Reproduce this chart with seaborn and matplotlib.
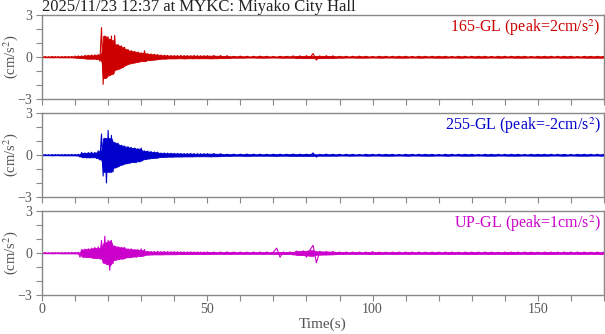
import numpy as np
import pandas as pd
import matplotlib
matplotlib.use("Agg")
import matplotlib.pyplot as plt
import seaborn as sns
from matplotlib.ticker import MultipleLocator

# ---------------- data ----------------
title = "2025/11/23 12:37 at MYKC: Miyako City Hall"
channels = ["165-GL", "255-GL", "UP-GL"]
peaks = ["2", "-2", "1"]
colors = ["#cc0000", "#0000cc", "#cc00cc"]

# alternating extremes every 0.5 s, t = 0 ... 50 s
red_early = [
    0.03, -0.02, 0.03, -0.03, 0.02, -0.03, 0.04, -0.03, 0.03, -0.02,
    0.03, -0.04, 0.03, -0.03, 0.04, -0.03, 0.03, -0.03, 0.04, -0.04,
    0.07, -0.06, 0.08, -0.07, 0.09,
    -0.10, 0.12, -0.13, 0.12, -0.14, 0.15, -0.12, 0.16, -0.15, 0.18,
    -0.30, 2.10, -1.95, 1.50, -1.50, 1.45, -1.30, 1.50, -1.20, 1.55,
    -0.90, 0.90, -0.85, 0.80, -0.75, 0.70, -0.60, 0.55, -0.50, 0.45,
    -0.45, 0.40, -0.40, 0.35, -0.35, 0.30, -0.30, 0.45, -0.30, 0.25,
    -0.22, 0.22, -0.20, 0.20, -0.18, 0.18, -0.15, 0.15, -0.12, 0.13,
    -0.12, 0.12, -0.10, 0.11, -0.10, 0.10, -0.11, 0.10, -0.09, 0.12,
    -0.10, 0.10, -0.12, 0.10, -0.09, 0.10, -0.10, 0.11, -0.09, 0.10,
    -0.10, 0.09, -0.10, 0.10, -0.09, 0.10,
]
blue_early = [
    0.03, -0.02, 0.03, -0.03, 0.02, -0.03, 0.03, -0.03, 0.03, -0.02,
    0.03, -0.03, 0.03, -0.03, 0.04, -0.03, 0.03, -0.03, 0.04, -0.03,
    0.04, -0.04, 0.05,
    -0.15, 0.18, -0.20, 0.15, -0.22, 0.17, -0.18, 0.20, -0.16, 0.19,
    -0.25, 0.30, -0.35,
    1.50, -1.50, 1.20, -2.00, 1.76, -1.20, 1.40, -1.20, 0.90, -0.90,
    0.85, -0.80, 0.70, -0.70, 0.65, -0.60, 0.60, -0.55, 0.55, -0.50,
    0.50, -0.55, 0.45, -0.45, 0.50, -0.40, 0.30, -0.30, 0.28, -0.25,
    0.25, -0.22, 0.22, -0.20, 0.20, -0.18,
    0.15, -0.14, 0.15, -0.13, 0.14, -0.12, 0.13, -0.12, 0.12, -0.11,
    0.12, -0.11, 0.11, -0.12, 0.10, -0.11, 0.10, -0.10, 0.11, -0.10,
    0.10, -0.09, 0.10, -0.10, 0.09, -0.10, 0.10, -0.09, 0.10,
]
mag_early = [
    0.03, -0.02, 0.03, -0.03, 0.02, -0.03, 0.03, -0.03, 0.03, -0.02,
    0.03, -0.03, 0.03, -0.03, 0.04, -0.03, 0.03, -0.03, 0.04, -0.03,
    0.04, -0.04, 0.05,
    -0.30, 0.25, -0.33, 0.28, -0.30, 0.30, -0.32,
    0.35, -0.38, 0.40, -0.35, 0.45, -0.40,
    0.90, -0.70, 1.20, -0.80, 0.90, -1.24, 0.90, -0.75, 0.50, -0.50,
    0.45, -0.45, 0.40, -0.40, 0.40, -0.35, 0.30, -0.30, 0.30, -0.28,
    0.25, -0.30, 0.25, -0.22, 0.30, -0.20, 0.25, -0.15, 0.12, -0.12,
    0.11, -0.12, 0.10, -0.11, 0.12, -0.10, 0.10, -0.11, 0.10, -0.09,
    0.10, -0.10, 0.09, -0.10, 0.10, -0.09, 0.10, -0.08, 0.09, -0.08,
    0.08, -0.09, 0.08, -0.08, 0.09, -0.08, 0.08, -0.07, 0.08, -0.08,
    0.07, -0.08, 0.07, -0.07, 0.08,
]

# alternating extremes every 1 s, t = 51 ... 170 s
red_late = [
    -0.10, 0.10, -0.09, 0.10, -0.08, 0.09, -0.08,
    0.05, -0.05, 0.06, -0.05, 0.05, -0.04, 0.05, -0.05, 0.06, -0.05,
    0.05, -0.05, 0.04, -0.05, 0.05, -0.06, 0.05, -0.05,
    0.08, -0.07, 0.08, -0.08, 0.09, -0.08,
    0.25, -0.22,
    0.08, -0.08, 0.09, -0.07, 0.08, -0.07,
    0.05, -0.05, 0.05, -0.04, 0.05, -0.05, 0.06, -0.05, 0.05, -0.05,
    0.04, -0.05, 0.05, -0.05, 0.05, -0.04, 0.05, -0.05, 0.05, -0.05,
    0.05, -0.05, 0.04, -0.05, 0.05, -0.05, 0.05, -0.04, 0.05, -0.05,
    0.05, -0.05, 0.05, -0.05, 0.04, -0.05, 0.05, -0.05, 0.05, -0.04,
    0.05, -0.05, 0.05, -0.05, 0.05, -0.05, 0.04, -0.05, 0.05, -0.05,
    0.05, -0.04, 0.05, -0.05, 0.05, -0.05, 0.05, -0.05, 0.04, -0.05,
    0.05, -0.05, 0.05, -0.05, 0.05, -0.04, 0.05, -0.05, 0.05, -0.05,
    0.05, -0.05, 0.04, -0.05, 0.05, -0.05, 0.05, -0.05, 0.05, -0.05,
    0.05,
]
blue_late = [
    -0.10, 0.10, -0.09, 0.09, -0.08,
    0.06, -0.06, 0.06, -0.05, 0.06, -0.06, 0.07, -0.06, 0.06, -0.05,
    0.06, -0.06, 0.05, -0.06, 0.06, -0.06, 0.06, -0.05, 0.06, -0.06,
    0.07, -0.06, 0.06, -0.06, 0.06, -0.06,
    0.15, -0.15,
    0.05, -0.05, 0.06, -0.05, 0.05, -0.05, 0.05, -0.04, 0.05, -0.05,
    0.05, -0.05, 0.04, -0.05, 0.05, -0.05, 0.05, -0.04, 0.05, -0.05,
    0.05, -0.05, 0.05, -0.05, 0.04, -0.05, 0.05, -0.05, 0.05, -0.04,
    0.05, -0.05, 0.05, -0.05, 0.05, -0.05, 0.04, -0.05, 0.05, -0.05,
    0.05, -0.04, 0.05, -0.05, 0.05, -0.05, 0.05, -0.05, 0.04, -0.05,
    0.05, -0.05, 0.05, -0.05, 0.05, -0.04, 0.05, -0.05, 0.05, -0.05,
    0.05, -0.05, 0.04, -0.05, 0.05, -0.05, 0.05, -0.05, 0.05, -0.05,
    0.05, -0.04, 0.05, -0.05, 0.05, -0.05, 0.04, -0.05, 0.05, -0.05,
    0.05, -0.05, 0.05, -0.04, 0.05, -0.05, 0.05,
]
mag_late = [
    -0.07, 0.07, -0.06, 0.07, -0.07, 0.08, -0.07, 0.07, -0.06, 0.07,
    -0.07, 0.06, -0.07, 0.07, -0.06, 0.07, -0.07, 0.07, -0.06, 0.07,
    0.35, -0.30,
    0.07, -0.07, 0.08,
    -0.15, 0.14, -0.15, 0.16,
    -0.30, 0.20,
    0.55, -0.70,
    0.12, -0.12, 0.11, -0.12, 0.10, -0.10,
    0.07, -0.07, 0.07, -0.06, 0.07, -0.07, 0.07, -0.06, 0.07, -0.07,
    0.10, -0.10, 0.07, -0.07, 0.06, -0.07, 0.07, -0.07, 0.07, -0.06,
    0.07, -0.07, 0.07, -0.06, 0.07, -0.07, 0.06, -0.07, 0.07, -0.07,
    0.07, -0.06, 0.07, -0.07, 0.07, -0.07, 0.06, -0.07, 0.07, -0.07,
    0.07, -0.07, 0.07, -0.06, 0.07, -0.07, 0.07, -0.07, 0.06, -0.07,
    0.07, -0.07, 0.07, -0.07, 0.07, -0.06, 0.07, -0.07, 0.07, -0.07,
    0.06, -0.07, 0.07, -0.07, 0.07, -0.07, 0.07, -0.06, 0.07, -0.07,
    0.07, -0.06, 0.07, -0.07, 0.07, -0.07, 0.06, -0.07, 0.07, -0.07,
    0.07,
]

early_t = np.arange(0, 50.01, 0.5)
late_t = np.arange(51, 170.01, 1.0)

series = [(red_early, red_late), (blue_early, blue_late), (mag_early, mag_late)]

# ---------------- style ----------------
sns.set_style("ticks")
plt.rcParams["font.family"] = ["Liberation Serif", "DejaVu Serif"]
plt.rcParams["mathtext.fontset"] = "stix"

grey = "#888888"
txtgrey = "#555555"

fig = plt.figure(figsize=(6.05, 3.34), dpi=100)
left = 42 / 605
width = (604 - 42) / 605
h = 84 / 334
bottoms = [1 - 99 / 334, 1 - 197 / 334, 1 - 295 / 334]

for i, (early, late) in enumerate(series):
    ax = fig.add_axes([left, bottoms[i], width, h])
    n_e = min(len(early), len(early_t))
    n_l = min(len(late), len(late_t))
    t = np.concatenate([early_t[:n_e], late_t[:n_l]])
    y = np.concatenate([np.array(early[:n_e]), np.array(late[:n_l])])
    df = pd.DataFrame({"t": t, "a": y})
    # dense core of the trace: smallest neighbouring excursion
    core = df["a"].abs().rolling(3, center=True, min_periods=1).min()
    ax.fill_between(df["t"], -core, core, color=colors[i], linewidth=0.6,
                    edgecolor=colors[i])
    sns.lineplot(data=df, x="t", y="a", ax=ax, color=colors[i],
                 linewidth=0.8, estimator=None, sort=False)
    ax.set_xlim(0, 170)
    ax.set_ylim(-3, 3)
    ax.set_yticks([-3, 0, 3])
    ax.yaxis.set_minor_locator(MultipleLocator(1))
    ax.xaxis.set_major_locator(MultipleLocator(50))
    ax.xaxis.set_minor_locator(MultipleLocator(10))
    for s in ax.spines.values():
        s.set_visible(True)
        s.set_color(grey)
        s.set_linewidth(1.0)
    ax.tick_params(which="both", direction="out", length=4, width=0.8,
                   color=grey, labelcolor=txtgrey, labelsize=10, pad=2)
    ax.tick_params(axis="y", pad=3)
    ax.set_ylabel("(cm/s$^{2}$)", color=txtgrey, fontsize=10.5)
    ax.yaxis.set_label_coords(-0.040, 0.5)
    if i < 2:
        ax.set_xticklabels([])
        ax.set_xlabel("")
    else:
        ax.set_xlabel("Time(s)", color=txtgrey, fontsize=11, labelpad=1)
    ax.text(0.994, 0.975, f"{channels[i]} (peak={peaks[i]}cm/s$^{{2}}$)",
            transform=ax.transAxes, ha="right", va="top",
            color=colors[i], fontsize=11.5)
    if i == 0:
        ax.set_title(title, loc="left", fontsize=12, color="#222222", pad=1)

fig.savefig("out.png", dpi=100)
